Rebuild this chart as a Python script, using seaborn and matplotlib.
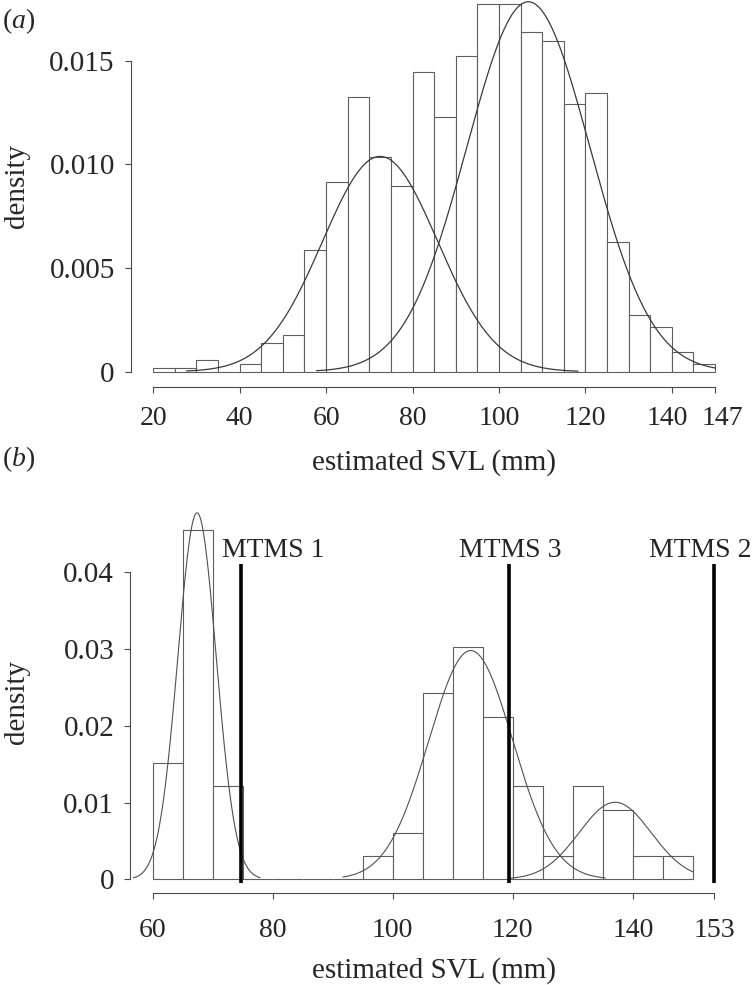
import numpy as np
import pandas as pd
import matplotlib
matplotlib.use("Agg")
import matplotlib.pyplot as plt
import matplotlib.transforms as mtransforms
import seaborn as sns

# (a) histogram of estimated SVL, 5 mm bins from 20 to 150 (densities)
a_edges = list(range(20, 151, 5))
a_density = [0.00019, 0.00019, 0.00058, 0.0, 0.00037, 0.00136, 0.00175, 0.00585,
             0.00916, 0.01326, 0.01035, 0.00895, 0.01445, 0.0123, 0.01522, 0.01773,
             0.01773, 0.01639, 0.01596, 0.01289, 0.01345, 0.00624, 0.00272, 0.00214,
             0.00096, 0.00039]
# fitted normal components (mean, sd, mixing weight, drawn range)
a_mean = [72.5, 106.8]
a_sd = [13.3, 14.25]
a_weight = [0.346, 0.637]
a_from = [27.7, 57.8]
a_to = [118.3, 150.0]
a_xticks = [20, 40, 60, 80, 100, 120, 140, 150]
a_xticklabels = ["20", "40", "60", "80", "100", "120", "140", "147"]
a_yticks = [0, 0.005, 0.010, 0.015]
a_yticklabels = ["0", "0.005", "0.010", "0.015"]

# (b) counts per 5 mm bin from 60 to 150
b_edges = list(range(60, 151, 5))
b_counts = [5, 15, 4, 0, 0, 0, 0, 1, 2, 8, 10, 7, 4, 1, 4, 3, 1, 1]
b_mean = [67.4, 113.0, 137.05]
b_sd = [3.2, 7.0, 6.0]
b_weight = [0.383, 0.523, 0.151]
b_from = [56.8, 91.7, 119.5]
b_to = [77.9, 135.4, 150.0]
mtms_names = ["MTMS 1", "MTMS 3", "MTMS 2"]
mtms_x = [74.8, 119.3, 153.6]
mtms_label_x = [80.05, 119.55, 151.2]
b_xticks = [60, 80, 100, 120, 140, 153.6]
b_xticklabels = ["60", "80", "100", "120", "140", "153"]
b_yticks = [0, 0.01, 0.02, 0.03, 0.04]
b_yticklabels = ["0", "0.01", "0.02", "0.03", "0.04"]

sns.set_style("ticks")
plt.rcParams["font.family"] = ["Liberation Serif", "DejaVu Serif"]
plt.rcParams["mathtext.fontset"] = "custom"
plt.rcParams["mathtext.it"] = "Liberation Serif:italic"
plt.rcParams["mathtext.rm"] = "Liberation Serif"

axis_col = "#4a4a4a"
FS = 21


def normal_curve(ax, mu, sd, w, lo, hi, color, lw):
    xs = np.linspace(lo, hi, 400)
    ys = w * np.exp(-0.5 * ((xs - mu) / sd) ** 2) / (sd * np.sqrt(2 * np.pi))
    sns.lineplot(x=xs, y=ys, ax=ax, color=color, lw=lw, estimator=None, sort=False)


def style_axes(ax, xb, yb, xt, xtl, yt, ytl, xpad):
    for s in ["top", "right"]:
        ax.spines[s].set_visible(False)
    for s in ["left", "bottom"]:
        ax.spines[s].set_color(axis_col)
        ax.spines[s].set_linewidth(0.8)
    ax.spines["bottom"].set_bounds(*xb)
    ax.spines["left"].set_bounds(*yb)
    ax.set_xticks(xt)
    ax.set_xticklabels(xtl)
    ax.set_yticks(yt)
    ax.set_yticklabels(ytl)
    ax.tick_params(direction="out", length=4.5, width=0.8, color=axis_col)
    ax.tick_params(axis="x", labelsize=20, pad=xpad)
    ax.tick_params(axis="y", labelsize=FS, pad=7)


fig = plt.figure(figsize=(7.56, 9.85), dpi=100)

# ---- panel (a)
ax1 = fig.add_axes([0.1730, 0.6074, 0.8025, 0.4078])
df_a = pd.DataFrame({"svl": [e + 2.5 for e in a_edges[:-1]], "w": a_density})
sns.histplot(data=df_a, x="svl", weights="w", bins=a_edges, stat="count", ax=ax1,
             facecolor="white", edgecolor="#5e5e5e", linewidth=0.8, alpha=1)
for i in range(len(a_mean)):
    normal_curve(ax1, a_mean[i], a_sd[i], a_weight[i], a_from[i], a_to[i], "#3a3a3a", 0.9)
ax1.set_xlim(14.8, 155.2)
ax1.set_ylim(-0.000723, 0.01864)
style_axes(ax1, (20, 150), (0, 0.015), a_xticks, a_xticklabels, a_yticks, a_yticklabels, 9.5)
# the last two labels sit slightly apart in the original
labs = ax1.get_xticklabels()
for lab, dx in [(labs[-2], -4), (labs[-1], 7)]:
    lab.set_transform(lab.get_transform() + mtransforms.ScaledTranslation(dx / 100, 0, fig.dpi_scale_trans))
ax1.set_xlabel("estimated SVL (mm)", fontsize=FS, va="baseline")
ax1.xaxis.set_label_coords(0.5, -0.2074)
ax1.set_ylabel("density", fontsize=FS)
ax1.yaxis.set_label_coords(-0.166, 0.5)

# ---- panel (b)
ax2 = fig.add_axes([0.1722, 0.0931, 0.8046, 0.3882])
df_b = pd.DataFrame({"svl": [e + 2.5 for e in b_edges[:-1]], "n": b_counts})
sns.histplot(data=df_b, x="svl", weights="n", bins=b_edges, stat="density", ax=ax2,
             facecolor="white", edgecolor="#5e5e5e", linewidth=0.8, alpha=1)
for i in range(len(b_mean)):
    normal_curve(ax2, b_mean[i], b_sd[i], b_weight[i], b_from[i], b_to[i], "#505050", 0.8)
ax2.vlines(mtms_x, -0.00044, 0.0411, color="black", lw=2.6)
for name, lx in zip(mtms_names, mtms_label_x):
    ax2.text(lx, 0.04203, name, fontsize=20, ha="center", va="baseline")
ax2.set_xlim(56.26, 157.6)
ax2.set_ylim(-0.00182, 0.048)
style_axes(ax2, (60, 153.6), (0, 0.04), b_xticks, b_xticklabels, b_yticks, b_yticklabels, 13)
ax2.set_xlabel("estimated SVL (mm)", fontsize=FS, va="baseline")
ax2.xaxis.set_label_coords(0.5, -0.2215)
ax2.set_ylabel("density", fontsize=FS)
ax2.yaxis.set_label_coords(-0.1647, 0.5)

fig.text(2 / 756, 1 - 28 / 985, r"($\mathit{a}$)", fontsize=20, va="baseline")
fig.text(2 / 756, 1 - 466 / 985, r"($\mathit{b}$)", fontsize=20, va="baseline")

fig.savefig("out.png", dpi=100)
